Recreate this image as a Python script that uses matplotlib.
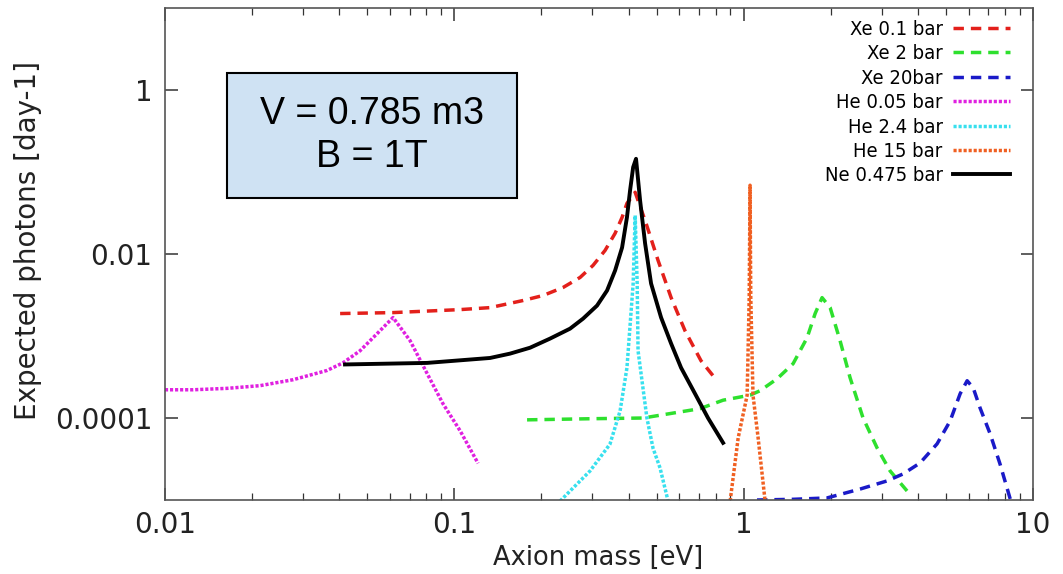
import matplotlib
matplotlib.use("Agg")
import matplotlib.pyplot as plt
from matplotlib.patches import Rectangle
from matplotlib.ticker import FixedLocator, NullLocator, LogLocator, NullFormatter

# ---- data ----
xe01_m = [0.0403, 0.0614, 0.1047, 0.1329, 0.1727, 0.2026, 0.2376, 0.272, 0.3015, 0.3319, 0.3595, 0.380,
          0.395, 0.4217, 0.4598, 0.506, 0.5613, 0.627, 0.712, 0.809]
xe01_n = [1.88e-3, 1.93e-3, 2.10e-3, 2.22e-3, 2.71e-3, 3.12e-3, 3.91e-3, 5.18e-3, 7.26e-3, 1.107e-2, 1.79e-2,
          2.80e-2, 4.15e-2, 5.66e-2, 2.37e-2, 8.35e-3, 2.94e-3, 1.16e-3, 5.0e-4, 2.85e-4]

xe2_m = [0.1784, 0.2944, 0.449, 0.706, 0.849, 1.052, 1.139, 1.305, 1.482, 1.656, 1.766, 1.866, 1.990,
         2.153, 2.332, 2.586, 2.891, 3.207, 3.67]
xe2_n = [9.5e-5, 9.8e-5, 1.0e-4, 1.30e-4, 1.65e-4, 1.9e-4, 2.15e-4, 3.01e-4, 4.6e-4, 9.5e-4, 1.88e-3,
         2.94e-3, 2.22e-3, 8.8e-4, 3.1e-4, 1.0e-4, 4.32e-5, 2.26e-5, 1.29e-5]

xe20_m = [1.112, 1.482, 1.941, 2.525, 3.131, 3.556, 4.07, 4.66, 5.17, 5.60, 5.92, 6.21, 6.56, 7.11, 7.69, 8.34]
xe20_n = [1.0e-5, 1.02e-5, 1.06e-5, 1.36e-5, 1.71e-5, 2.08e-5, 2.83e-5, 4.84e-5, 9.2e-5, 1.98e-4, 2.85e-4,
          2.34e-4, 1.33e-4, 6.4e-5, 2.75e-5, 1.03e-5]

he005_m = [0.01, 0.0125, 0.0164, 0.0213, 0.0277, 0.0363, 0.0412, 0.0472, 0.0541, 0.0614, 0.0703, 0.0805,
           0.0914, 0.1047, 0.1208]
he005_n = [2.21e-4, 2.21e-4, 2.3e-4, 2.48e-4, 2.93e-4, 3.8e-4, 4.7e-4, 6.6e-4, 1.07e-3, 1.68e-3, 8.8e-4,
           3.5e-4, 1.49e-4, 7.0e-5, 2.8e-5]

he24_m = [0.2319, 0.2944, 0.345, 0.374, 0.395, 0.415, 0.4217, 0.4285, 0.4315, 0.463, 0.486, 0.514, 0.548]
he24_n = [9.7e-6, 2.26e-5, 4.8e-5, 1.22e-4, 4.1e-4, 4.37e-3, 2.96e-2, 4.37e-3, 6.6e-4, 1.0e-4, 4.3e-5,
          2.46e-5, 9.7e-6]

he15_m = [0.898, 0.957, 1.028, 1.045, 1.052, 1.058, 1.077, 1.122, 1.186]
he15_n = [9.7e-6, 5.7e-5, 1.9e-4, 3.0e-3, 6.9e-2, 3.0e-3, 1.9e-4, 5.7e-5, 9.7e-6]

ne_m = [0.0419, 0.0805, 0.1329, 0.1558, 0.1827, 0.2142, 0.2512, 0.2786, 0.3113, 0.3372, 0.3595, 0.380,
        0.395, 0.405, 0.415, 0.4246, 0.4385, 0.4563, 0.4786, 0.5183, 0.5613, 0.6077, 0.679, 0.753, 0.849]
ne_n = [4.5e-4, 4.7e-4, 5.4e-4, 6.1e-4, 7.2e-4, 9.3e-4, 1.23e-3, 1.63e-3, 2.35e-3, 3.59e-3, 6.3e-3, 1.20e-2,
        2.80e-2, 6.0e-2, 0.1145, 0.145, 4.52e-2, 1.35e-2, 4.37e-3, 1.68e-3, 8.1e-4, 4.1e-4, 1.98e-4, 1.0e-4,
        4.98e-5]

labels = ["Xe 0.1 bar", "Xe 2 bar", "Xe 20bar", "He 0.05 bar", "He 2.4 bar", "He 15 bar", "Ne 0.475 bar"]
x_ticks = [0.01, 0.1, 1, 10]
x_ticklabels = ["0.01", "0.1", "1", "10"]
y_ticks = [1e-4, 1e-2, 1]
y_ticklabels = ["0.0001", "0.01", "1"]
box_text = "V = 0.785 m3\nB = 1T"

# ---- figure ----
fig = plt.figure(figsize=(10.63, 5.74), dpi=100)
ax = fig.add_axes([0.1552, 0.1289, 0.8166, 0.8571])
ax.set_xscale("log")
ax.set_yscale("log")
ax.set_xlim(0.01, 10)
ax.set_ylim(1e-5, 10)

dash = (3, 2)
dot = (0.9, 0.55)
lw = 2.5
ax.plot(xe01_m, xe01_n, color="#e3201b", lw=lw, dashes=dash, label=labels[0])
ax.plot(xe2_m, xe2_n, color="#2ee02e", lw=lw, dashes=dash, label=labels[1])
ax.plot(xe20_m, xe20_n, color="#1a1ac8", lw=lw, dashes=dash, label=labels[2])
ax.plot(he005_m, he005_n, color="#e020e0", lw=lw, dashes=dot, label=labels[3])
ax.plot(he24_m, he24_n, color="#38e0ee", lw=lw, dashes=dot, label=labels[4])
ax.plot(he15_m, he15_n, color="#f06022", lw=lw, dashes=dot, label=labels[5])
ax.plot(ne_m, ne_n, color="black", lw=2.8, label=labels[6])

# ticks
ax.xaxis.set_major_locator(FixedLocator(x_ticks))
ax.set_xticklabels(x_ticklabels)
ax.xaxis.set_minor_locator(LogLocator(base=10, subs=range(2, 10)))
ax.xaxis.set_minor_formatter(NullFormatter())
ax.yaxis.set_major_locator(FixedLocator(y_ticks))
ax.set_yticklabels(y_ticklabels)
ax.yaxis.set_minor_locator(NullLocator())
ax.tick_params(which="both", direction="in", top=True, right=True, color="#333333")
ax.tick_params(which="major", length=9, width=1.1, labelsize=20, labelcolor="#222222")
ax.tick_params(which="minor", length=5, width=0.9)
ax.tick_params(axis="x", which="major", pad=8)
ax.tick_params(axis="y", which="major", pad=9)
for s in ax.spines.values():
    s.set_color("#555555")
    s.set_linewidth(1.2)

ax.set_xlabel("Axion mass [eV]", fontsize=18.5, color="#222222")
ax.set_ylabel("Expected photons [day-1]", fontsize=20, color="#222222")
ax.xaxis.set_label_coords(0.499, -0.092)
ax.yaxis.set_label_coords(-0.142, 0.528)

# annotation box
ax.add_patch(Rectangle((0.0714, 0.614), 0.3341, 0.254, transform=ax.transAxes,
                       facecolor="#cfe2f3", edgecolor="black", lw=1.5, zorder=5))
ax.text(0.2385, 0.741, box_text, transform=ax.transAxes, ha="center", va="center",
        fontsize=27, family="Liberation Sans", linespacing=1.25, zorder=6)

leg = ax.legend(loc="upper right", bbox_to_anchor=(0.9735, 0.976), frameon=False, markerfirst=False,
                prop=dict(family="DejaVu Sans", stretch="condensed", size=14.5),
                handlelength=2.85, handletextpad=0.5, labelspacing=0.27, borderpad=0, borderaxespad=0)

fig.savefig("out.png", dpi=100)
